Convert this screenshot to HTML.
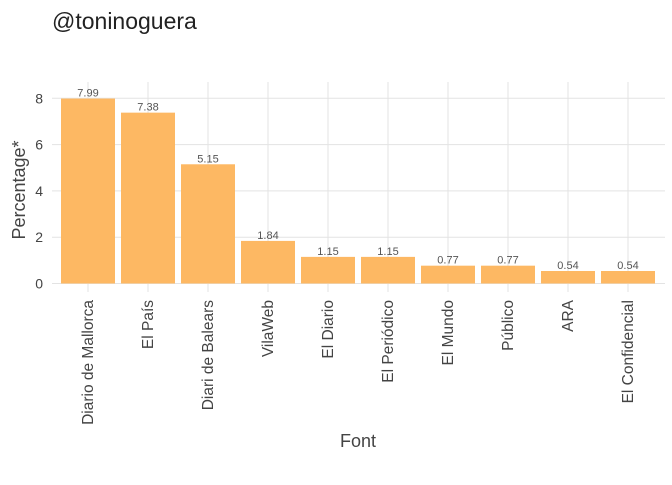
<!DOCTYPE html>
<html><head><meta charset="utf-8"><style>
body{margin:0;background:#fff;font-family:"Liberation Sans","DejaVu Sans",sans-serif;}
</style></head><body>
<svg id="chart" width="672" height="480" xmlns="http://www.w3.org/2000/svg">
<text x="52" y="29" font-size="23" fill="#222">@toninoguera</text>
<g id="grid"></g><g id="bars"></g><g id="labels"></g>
<text transform="translate(25,190) rotate(-90)" text-anchor="middle" font-size="18" fill="#444">Percentage*</text>
<text x="358" y="447" text-anchor="middle" font-size="18" fill="#444">Font</text>
</svg>
<script>
const categories=["Diario de Mallorca","El País","Diari de Balears","VilaWeb","El Diario","El Periódico","El Mundo","Público","ARA","El Confidencial"];
const values=[7.99,7.38,5.15,1.84,1.15,1.15,0.77,0.77,0.54,0.54];
const yTicks=[0,2,4,6,8];
const NS="http://www.w3.org/2000/svg";
const y0=283.5,yk=(283.5-98.3)/8;
const y=v=>y0-v*yk;
const x=i=>88+i*60;
const bw=54;
function mk(t,a,p){const e=document.createElementNS(NS,t);for(const k in a)e.setAttribute(k,a[k]);document.getElementById(p).appendChild(e);return e;}
yTicks.forEach(t=>{
 const l=mk('line',{x1:52,x2:665,y1:y(t),y2:y(t),stroke:'#e3e3e3','stroke-width':1},'grid');
 
 
 const tx=mk('text',{x:43,y:y(t)+5,'text-anchor':'end','font-size':14,fill:'#444'},'labels');
 tx.textContent=t;
 
 
});
categories.forEach((c,i)=>{
 const g=mk('line',{x1:x(i),x2:x(i),y1:82,y2:292,stroke:'#e3e3e3','stroke-width':1},'grid');
 
 
 const r=mk('rect',{x:x(i)-bw/2,y:y(values[i]),width:bw,height:y0-y(values[i]),fill:'#fdb863'},'bars');
 
 
 const v=mk('text',{x:x(i),y:y(values[i])-2,'text-anchor':'middle','font-size':11,fill:'#555'},'labels');
 v.textContent=values[i].toFixed(2);
 
 
 const tl=mk('text',{transform:`translate(${x(i)+5},300) rotate(-90)`,'text-anchor':'end','font-size':15.5,fill:'#444'},'labels');
 tl.textContent=c;
 
 
});
</script>
</body></html>
